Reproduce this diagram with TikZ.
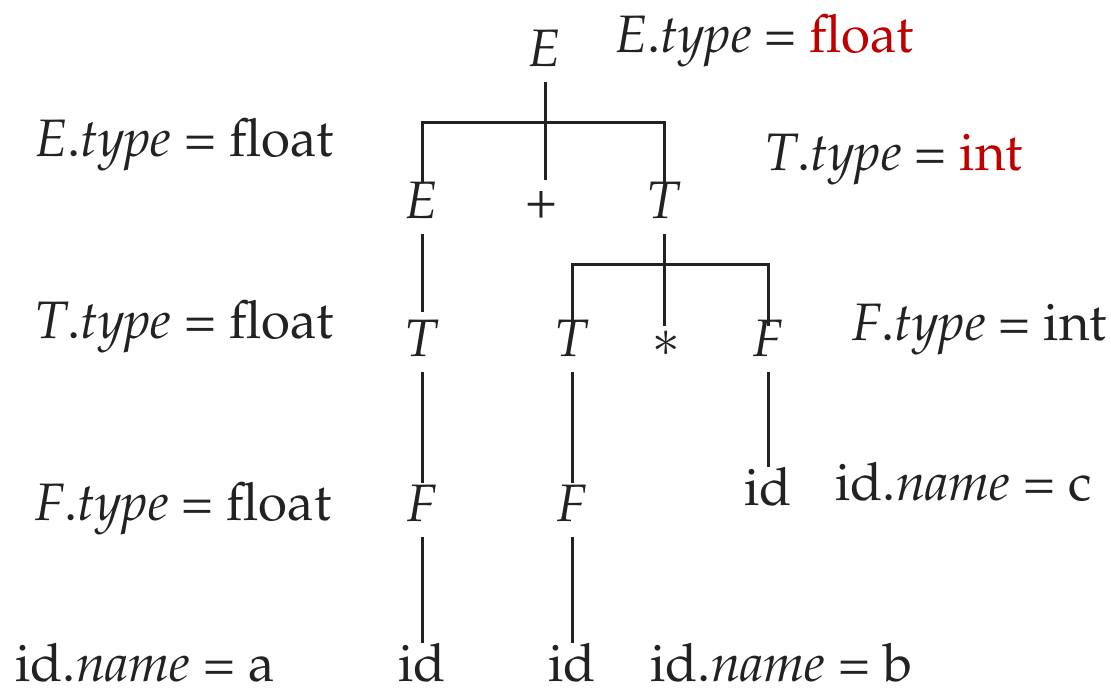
\documentclass[tikz,border=0pt]{standalone}
\usepackage[T1]{fontenc}
\usepackage{mathpazo}
\usepackage{xcolor}
\usetikzlibrary{calc}
\definecolor{ink}{RGB}{34,34,34}
\definecolor{valred}{RGB}{192,0,0}
\tikzset{
  sym/.style={anchor=base, inner sep=0pt, text height=0.7em, text depth=0pt,
              font=\fontsize{30}{36}\selectfont, text=ink},
  attr/.style={anchor=base west, inner sep=0pt,
               font=\fontsize{30}{36}\selectfont, text=ink},
  edge/.style={draw=ink, line width=1.7pt, shorten <=0.32cm, shorten >=0.5cm},
  bar/.style={draw=ink, line width=1.7pt},
}

\begin{document}
\begin{tikzpicture}[x=0.02cm, y=-0.02cm]
  \useasboundingbox (0,0) rectangle (1111,690);

  % Parse tree
  \node[sym] (e0)   at (545,66)  {\textit{E}};
  \node[sym] (e1)   at (422,218) {\textit{E}};
  \node[sym] (plus) at (541,218) {+};
  \node[sym] (t1)   at (664,218) {\textit{T}};
  \node[sym] (t2)   at (422,356) {\textit{T}};
  \node[sym] (t3)   at (572,356) {\textit{T}};
  \node[sym] (star) at (666,356) {$\ast$};
  \node[sym] (f1)   at (768,356) {\textit{F}};
  \node[sym] (f2)   at (422,521) {\textit{F}};
  \node[sym] (f3)   at (572,521) {\textit{F}};
  \node[sym] (id3)  at (768,505) {id};
  \node[sym] (id1)  at (422,681) {id};
  \node[sym] (id2)  at (572,681) {id};

  % Junctions of the branches
  \path (e0.south) ++(0,56) coordinate (j1);
  \path (t1.south) ++(0,46) coordinate (j2);

  % Branches
  \draw[edge, shorten >=0.5cm] (e0.south) -- (e0.south |- plus.north);
  \draw[bar] ($(e1.north)+(0,-22)$) |- (j1) -| ($(t1.north)+(0,-22)$);
  \draw[edge, shorten >=0.35cm] (t1.south) -- (t1.south |- star.north);
  \draw[bar] ($(t3.north)+(0,-17)$) |- (j2) -| ($(f1.north)+(0,-17)$);
  \draw[edge, shorten >=0.62cm] (e1.south) -- (t2.north);
  \draw[edge] (t2.south) -- (f2.north);
  \draw[edge] (t3.south) -- (f3.north);
  \draw[edge] (f1.south) -- (id3.north);
  \draw[edge] (f2.south) -- (id1.north);
  \draw[edge] (f3.south) -- (id2.north);

  % Attributes
  \node[attr] (a-e0)  at (615,52)  {\textit{E}.\textit{type} = \textcolor{valred}{float}};
  \node[attr] (a-e1)  at (35,156)  {\textit{E}.\textit{type} = float};
  \node[attr] (a-t1)  at (765,170) {\textit{T}.\textit{type} = \textcolor{valred}{int}};
  \node[attr] (a-t2)  at (35,338)  {\textit{T}.\textit{type} = float};
  \node[attr] (a-f1)  at (852,340) {\textit{F}.\textit{type} = int};
  \node[attr] (a-f2)  at (35,520)  {\textit{F}.\textit{type} = float};
  \node[attr] (a-id3) at (835,500) {id.\textit{name} = c};
  \node[attr] (a-id1) at (15,681)  {id.\textit{name} = a};
  \node[attr] (a-id2) at (650,681) {id.\textit{name} = b};
\end{tikzpicture}
\end{document}
